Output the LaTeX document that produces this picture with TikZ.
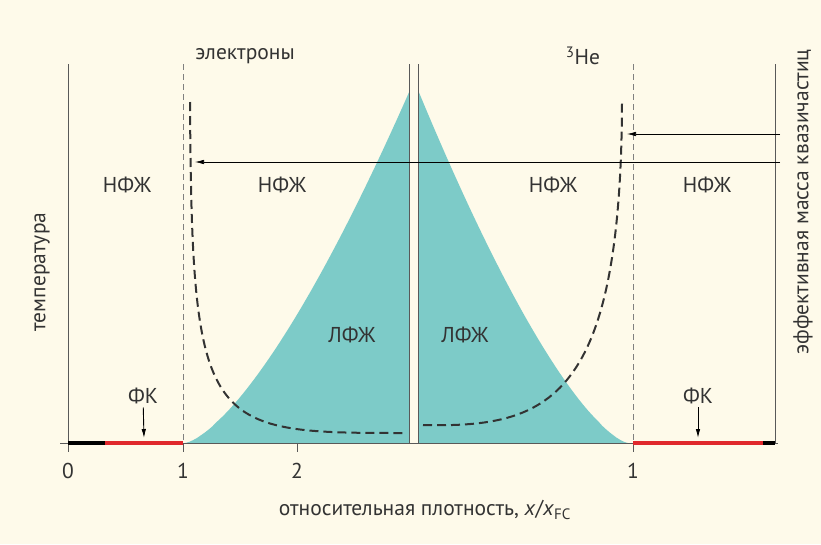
\documentclass[tikz,border=0pt]{standalone}
\usepackage{fontspec}
\setmainfont{PT Sans}
\usepackage{tikz}
\usetikzlibrary{calc, positioning, arrows.meta}
\definecolor{cream}{HTML}{FEFAEA}
\definecolor{lfzh}{HTML}{7DCBC8}
\definecolor{fkred}{HTML}{E0282C}
\definecolor{ink}{HTML}{333333}

\begin{document}
\begin{tikzpicture}[x=1pt, y=-1pt, font=\fontsize{21.5}{24}\selectfont, text=ink,
    guide/.style={gray, line width=0.6pt, dash pattern=on 6pt off 4pt},
    mass/.style={ink, line width=2pt, dash pattern=on 9pt off 5pt},
    ptr/.style={-{Latex[length=9pt,width=4.5pt]}, line width=0.6pt},
    axis/.style={gray!70!black, line width=0.6pt}]
    % Background
    \fill[cream] (0,0) rectangle (821,544);
    \useasboundingbox (0,0) rectangle (821,544);

    % Liquid phase (electrons left, 3He right)
    \fill[lfzh] (185,443) -- plot[domain=1:224, samples=60] ({185+\x}, {443-353*(\x/225)^1.45}) -- (409,443) -- cycle;
    \fill[lfzh] (628,443) -- plot[domain=1:210, samples=60] ({628-\x}, {443-353*(\x/210)^1.44}) -- (418,443) -- cycle;

    % Axes
    \draw[axis] (68,64) -- (68,443);
    \draw[axis] (775,64) -- (775,443);
    \draw[axis] (409,64) -- (409,443);
    \draw[axis] (418,64) -- (418,443);
    \draw[axis] (60,443) -- (778,443);
    \foreach \t/\lab in {68/0, 183/1, 297/2, 633/1} {
        \draw[axis] (\t,443) -- (\t,452);
        \node (t\t) at (\t,471) {\lab};
    }

    % Condensate on the axis
    \draw[black, line width=3.2pt] (68,443) -- (105,443);
    \draw[fkred, line width=3.2pt] (105,443) -- (183,443);
    \draw[fkred, line width=3.2pt] (633,443) -- (763,443);
    \draw[black, line width=3.2pt] (763,443) -- (775,443);

    % x = x_FC
    \draw[guide] (183,64) -- (183,443);
    \draw[guide] (633,64) -- (633,443);

    % Effective mass
    \draw[mass] (190,102) .. controls (192,430) and (205,433) .. (403,433);
    \draw[mass] (423,425) .. controls (550,428) and (621,400) .. (622,102);

    \coordinate (eStart) at (780,162);
    \coordinate (eEnd) at (195,162);
    \coordinate (heStart) at (780,134);
    \coordinate (heEnd) at (627,134);
    \draw[ptr] (eStart) -- (eEnd);
    \draw[ptr] (heStart) -- (heEnd);

    % Phases
    \node (nfzh1) at (127,185) {НФЖ};
    \node (nfzh2) at (282,185) {НФЖ};
    \node (nfzh3) at (553,185) {НФЖ};
    \node (nfzh4) at (707,185) {НФЖ};
    \node (lfzh1) at (352,335) {ЛФЖ};
    \node (lfzh2) at (465,335) {ЛФЖ};

    \node (fkL) at (143,396) {ФК};
    \node (fkR) at (698,396) {ФК};
    \coordinate (fkLtip) at (144,438);
    \coordinate (fkRtip) at (698,438);
    \draw[ptr, line width=0.9pt] (fkL) -- (fkLtip);
    \draw[ptr, line width=0.9pt] (fkR) -- (fkRtip);

    % Titles
    \node (el) at (245,56) {электроны};
    \node (he) at (583,56) {\textsuperscript{3}He};
    \node[rotate=90] (temp) at (42,272) {температура};
    \node[rotate=90] (mstar) at (803,202) {эффективная масса квазичастиц};
    \node (dens) at (425,510) {относительная плотность, \textit{x}/\textit{x}\textsubscript{FC}};
\end{tikzpicture}
\end{document}
